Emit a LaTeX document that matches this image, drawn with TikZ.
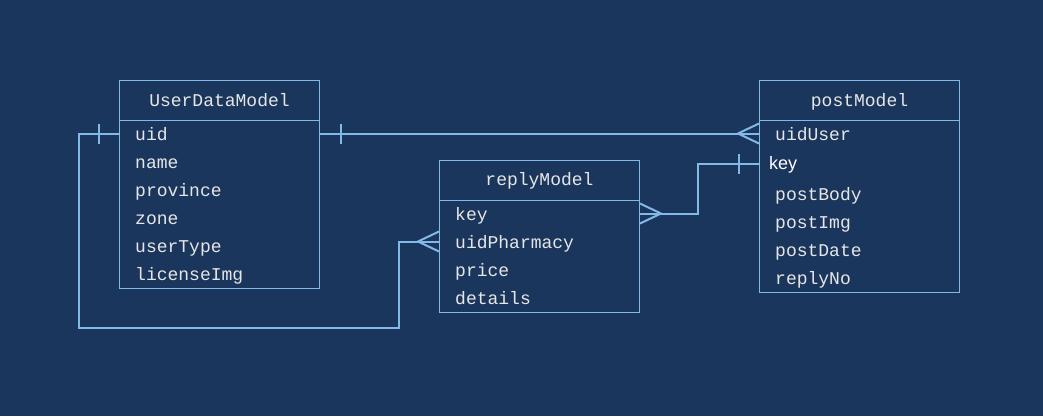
\documentclass[tikz,border=0pt]{standalone}
\usepackage{fontspec}
\setmainfont{Liberation Sans}
\newfontfamily\monofont{Liberation Mono}
\usetikzlibrary{calc}
\definecolor{bg}{HTML}{1B365D}
\definecolor{ln}{HTML}{82B9E6}
\definecolor{tx}{HTML}{E6E6E6}
\begin{document}
\begin{tikzpicture}[x=1pt,y=-1pt,
 box/.style={draw=ln,line width=1pt,anchor=north west,inner sep=0pt,minimum width=200pt},
 hdr/.style={draw=ln,line width=1pt},
 title/.style={text=tx,font=\monofont\fontsize{18}{18}\selectfont,anchor=base,inner sep=0pt},
 field/.style={text=tx,font=\monofont\fontsize{18}{18}\selectfont,anchor=base west,inner sep=0pt},
 sfield/.style={text=white,font=\fontsize{18}{18}\selectfont,anchor=base west,inner sep=0pt},
 conn/.style={draw=ln,line width=2pt},
]
\fill[bg] (0,0) rectangle (1043,416);
\useasboundingbox (0,0) rectangle (1043,416);

% UserDataModel
\node[box,minimum height=208pt] (udm) at (119,80) {};
\draw[hdr] ($(udm.north west)+(0,40)$) -- ($(udm.north east)+(0,40)$);
\node[title] (udmt) at ($(udm.north)+(0,26)$) {UserDataModel};
\node[field] (udm-uid) at (135,140) {uid};
\node[field] (udm-name) at (135,168) {name};
\node[field] (udm-prov) at (135,196) {province};
\node[field] (udm-zone) at (135,224) {zone};
\node[field] (udm-type) at (135,252) {userType};
\node[field] (udm-lic) at (135,280) {licenseImg};

% replyModel
\node[box,minimum height=152pt] (rm) at (439,160) {};
\draw[hdr] ($(rm.north west)+(0,40)$) -- ($(rm.north east)+(0,40)$);
\node[title] (rmt) at ($(rm.north)+(0,25.5)$) {replyModel};
\node[field] (rm-key) at (455,220) {key};
\node[field] (rm-uph) at (455,248) {uidPharmacy};
\node[field] (rm-price) at (455,276) {price};
\node[field] (rm-det) at (455,304) {details};

% postModel
\node[box,minimum height=212pt] (pm) at (759,80) {};
\draw[hdr] ($(pm.north west)+(0,40)$) -- ($(pm.north east)+(0,40)$);
\node[title] (pmt) at ($(pm.north)+(0,26)$) {postModel};
\node[field] (pm-uid) at (775,140) {uidUser};
\node[sfield] (pm-key) at (769,169) {key};
\node[field] (pm-body) at (775,200) {postBody};
\node[field] (pm-img) at (775,228) {postImg};
\node[field] (pm-date) at (775,256) {postDate};
\node[field] (pm-reply) at (775,284) {replyNo};

% row coordinates
\coordinate (r-uid) at (0,133.5);
\coordinate (r-pkey) at (0,164);
\coordinate (r-rkey) at (0,213.5);
\coordinate (r-uph) at (0,241.5);

% Connector 1: UserDataModel.uid -- postModel.uidUser
\draw[conn] (udm.east |- r-uid) -- (pm.west |- r-uid);
\draw[conn] ($(udm.east |- r-uid)+(21,-10)$) -- ++(0,20);
\draw[conn] ($(pm.west |- r-uid)+(0,-10)$) -- ++(-21,10) -- ++(21,10);

% Connector 2: postModel.key -- replyModel.key
\draw[conn] (pm.west |- r-pkey) -- ++(-61,0) |- (rm.east |- r-rkey);
\draw[conn] ($(pm.west |- r-pkey)+(-20,-10)$) -- ++(0,20);
\draw[conn] ($(rm.east |- r-rkey)+(0,-10)$) -- ++(21,10) -- ++(-21,10);

% Connector 3: UserDataModel.uid -- replyModel.uidPharmacy
\draw[conn] (udm.west |- r-uid) -- ++(-40.5,0) -- ++(0,194) -| ($(rm.west |- r-uph)+(-40,0)$) -- (rm.west |- r-uph);
\draw[conn] ($(udm.west |- r-uid)+(-20,-10)$) -- ++(0,20);
\draw[conn] ($(rm.west |- r-uph)+(0,-10)$) -- ++(-21,10) -- ++(21,10);
\end{tikzpicture}
\end{document}
